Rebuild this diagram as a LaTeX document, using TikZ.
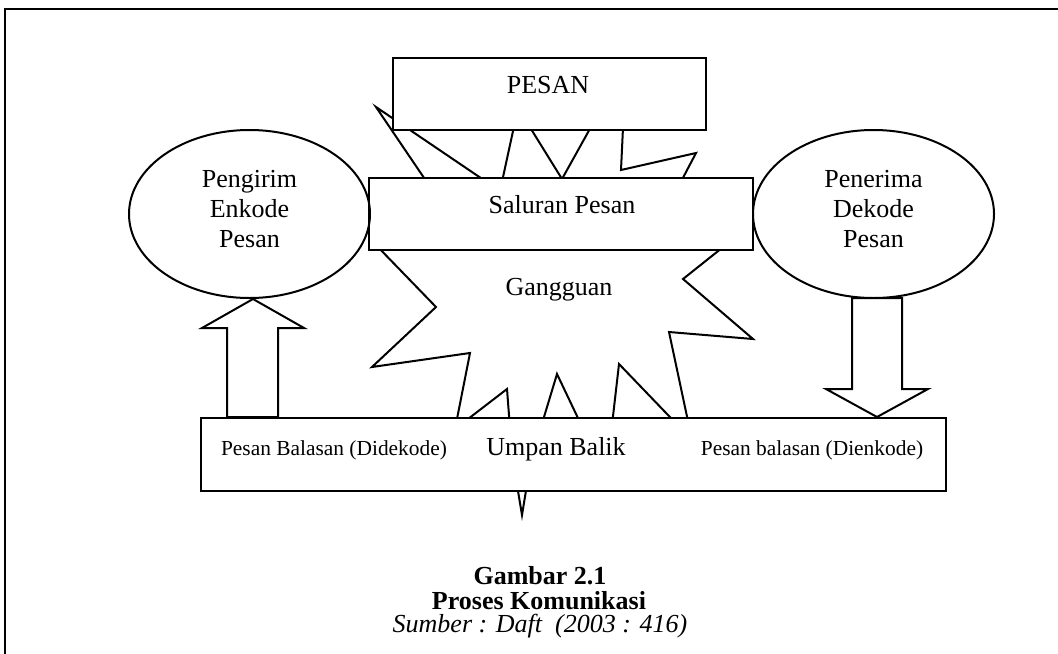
\documentclass[tikz,border=0pt]{standalone}
\usepackage{fontspec}
\setmainfont{Liberation Serif}
\usetikzlibrary{shapes.geometric,calc}
\begin{document}
\begin{tikzpicture}[x=0.5pt,y=-0.5pt,line width=1pt,line join=miter,
  box/.style={draw,fill=white,rectangle,inner sep=0pt},
  oval/.style={draw,ellipse,inner sep=0pt,minimum width=120.5pt,minimum height=84pt},
  txt/.style={inner sep=0pt,anchor=base,font=\fontsize{13}{15}\selectfont},
  ovaltxt/.style={inner sep=0pt,align=center,font=\fontsize{13}{15}\selectfont},
  small/.style={inner sep=0pt,anchor=base,font=\fontsize{10.7}{12}\selectfont},
  capb/.style={inner sep=0pt,anchor=base,font=\fontsize{13}{15}\selectfont\bfseries},
  capi/.style={inner sep=0pt,anchor=base,font=\fontsize{13}{15}\selectfont\itshape},
  block/.style={draw,fill=white}]
\useasboundingbox (0,0) rectangle (1058,653);

% page frame (runs off the right and bottom edges)
\draw (1080,9) -- (5,9) -- (5,680);

% noise burst behind the boxes
\draw[fill=white] (692,440) -- (619,364) -- (606,477) -- (557,374) -- (531,460)
  -- (522,515) -- (512,455) -- (507,389) -- (455,429) -- (470,353) -- (372,367)
  -- (436,307) -- (375,244) -- (439,200) -- (376,107) -- (500,191) -- (518,108)
  -- (562,179) -- (626,64) -- (621,170) -- (696,153) -- (675,193) -- (737,236)
  -- (683,279) -- (753,339) -- (669,332) -- cycle;
\node[txt] (noise) at (559,295) {Gangguan};

% boxes
\node[box,minimum width=156.5pt,minimum height=36pt] (pesan) at (549.5,94) {};
\node[txt] (pesan-t) at (548,93) {PESAN};
\node[box,minimum width=192pt,minimum height=36pt] (channel) at (561,214) {};
\node[txt] (channel-t) at (562,213) {Saluran Pesan};
\node[box,minimum width=372.5pt,minimum height=36.5pt] (feedback) at (573.5,454.5) {};
\node[small] (fb-left) at (334,455) {Pesan Balasan (Didekode)};
\node[txt] (fb-mid) at (556,455) {Umpan Balik};
\node[small] (fb-right) at (812,455) {Pesan balasan (Dienkode)};

% sender and receiver
\node[oval] (sender) at (249.5,214) {};
\node[ovaltxt] (sender-t) at (249.5,209) {Pengirim\\Enkode\\Pesan};
\node[oval] (receiver) at (873.5,214) {};
\node[ovaltxt] (receiver-t) at (873.5,209) {Penerima\\Dekode\\Pesan};

% block arrows
\draw[block] (227,0 |- feedback.north) -- (227,328) -- (202,328)
  -- (253,0 |- sender.south) -- (304,328) -- (278,328)
  -- (278,0 |- feedback.north) -- cycle;
\draw[block] (852,298) -- (852,389) -- (826,389)
  -- (877,0 |- feedback.north) -- (928,389) -- (902,389) -- (902,298) -- cycle;

% caption
\node[capb] (cap1) at (540,584) {Gambar 2.1};
\node[capb] (cap2) at (539,609) {Proses Komunikasi};
\node[capi] (cap3) at (540,632) {Sumber : Daft\ \ (2003 : 416)};
\end{tikzpicture}
\end{document}
